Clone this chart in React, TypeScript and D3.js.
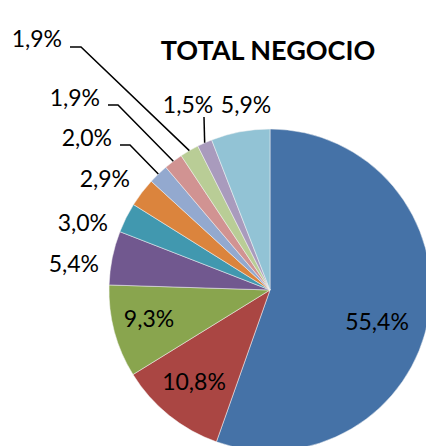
import * as d3 from "d3";
import { useEffect, useRef } from "react";

// slice values (percent), clockwise from 12 o'clock
const values = [55.4, 10.8, 9.3, 5.4, 3.0, 2.9, 2.0, 1.9, 1.9, 1.5, 5.9];
const labels = ["55,4%", "10,8%", "9,3%", "5,4%", "3,0%", "2,9%", "2,0%", "1,9%", "1,9%", "1,5%", "5,9%"];
const colors = [
  "#4572A7", "#AA4643", "#89A54E", "#71588F", "#4198AF", "#DB843D",
  "#93A9CF", "#D19392", "#B9CD96", "#A99BBD", "#92C3D5",
];
const title = "TOTAL NEGOCIO";

// label placement, relative to pie centre (Excel-style manual layout)
const labelLayout: { dx: number; dy: number; anchor: string; leader?: number[][] }[] = [
  { dx: 107, dy: 40, anchor: "middle" },
  { dx: -76, dy: 100, anchor: "middle" },
  { dx: -121, dy: 37, anchor: "middle" },
  { dx: -171, dy: -18, anchor: "end" },
  { dx: -162, dy: -59, anchor: "end" },
  { dx: -140, dy: -103, anchor: "end" },
  { dx: -158, dy: -144, anchor: "end", leader: [[-150, -145], [-140, -145]] },
  { dx: -170, dy: -184, anchor: "end", leader: [[-162, -185], [-152, -185]] },
  { dx: -208, dy: -243, anchor: "end", leader: [[-200, -243], [-189, -243]] },
  { dx: -82, dy: -177, anchor: "middle", leader: [[-66, -173]] },
  { dx: -24, dy: -177, anchor: "middle" },
];

const App = () => {
  const ref = useRef<SVGSVGElement>(null);

  useEffect(() => {
    const svg = d3.select(ref.current);
    svg.selectAll("*").remove();

    const width = 426;
    const height = 446;
    const cx = 270;
    const cy = 290;
    const radius = 161;

    svg.attr("width", width).attr("height", height);

    svg.append("rect").attr("width", width).attr("height", height).attr("fill", "#fff");

    const g = svg.append("g").attr("transform", `translate(${cx}, ${cy})`);

    const pie = d3.pie<number>().sort(null).value((d) => d);
    const arcs = pie(values);
    const arc = d3.arc<d3.PieArcDatum<number>>().innerRadius(0).outerRadius(radius);

    g.selectAll("path")
      .data(arcs)
      .join("path")
      .attr("d", arc)
      .attr("fill", (d, i) => colors[i])
      .attr("stroke", "#f4f4f4")
      .attr("stroke-width", 0.5);

    // leader lines
    arcs.forEach((d, i) => {
      const lay = labelLayout[i];
      if (!lay.leader) return;
      const mid = (d.startAngle + d.endAngle) / 2;
      const end: [number, number] = [radius * Math.sin(mid), -radius * Math.cos(mid)];
      const pts = [...lay.leader, end] as [number, number][];
      g.append("path")
        .attr("d", d3.line()(pts))
        .attr("fill", "none")
        .attr("stroke", "#000")
        .attr("stroke-width", 1.5);
    });

    g.selectAll("text.lbl")
      .data(arcs)
      .join("text")
      .attr("class", "lbl")
      .attr("x", (d, i) => labelLayout[i].dx)
      .attr("y", (d, i) => labelLayout[i].dy)
      .attr("text-anchor", (d, i) => labelLayout[i].anchor)
      .attr("font-family", "Lato, 'Open Sans', sans-serif")
      .attr("font-size", 23)
      .attr("fill", "#000")
      .text((d, i) => labels[i]);

    svg
      .append("text")
      .attr("x", 268)
      .attr("y", 60)
      .attr("text-anchor", "middle")
      .attr("font-family", "Lato, 'Open Sans', sans-serif")
      .attr("font-weight", "bold")
      .attr("font-size", 27)
      .attr("fill", "#000")
      .text(title);
  }, []);

  return <svg ref={ref} style={{ position: "absolute", left: 0, top: 0 }}></svg>;
};

export default App;
